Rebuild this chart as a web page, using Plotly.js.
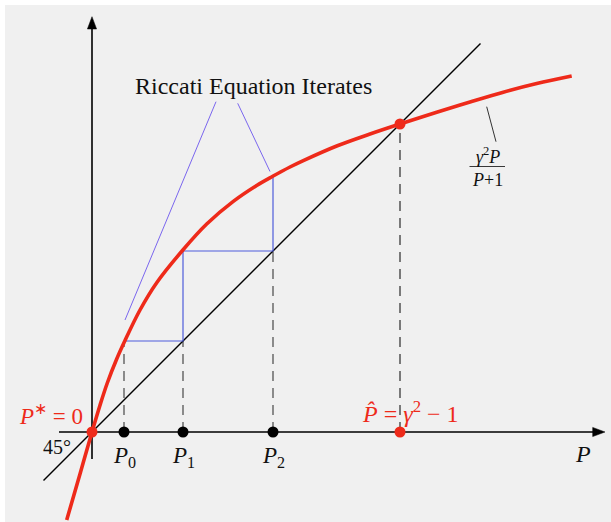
<!DOCTYPE html>
<html>
<head>
<meta charset="utf-8">
<script src="https://cdn.plot.ly/plotly-3.0.1.min.js"></script>
<style>html,body{margin:0;padding:0;background:#fff;}#chart{width:611px;height:522px;}</style>
</head>
<body>
<div id="chart"></div>
<script>
// ---- values (data units: P axis and value axis) ----
const curveP = [-0.253, -0.12, 0, 0.08, 0.153, 0.247, 0.33, 0.48, 0.647, 0.913, 1.147, 1.413, 1.647, 1.807, 1.98, 2.113, 2.447, 2.78, 3.08, 3.447, 3.78, 4.113, 4.447, 4.797];
const curveF = [-0.88, -0.42, 0, 0.268, 0.49, 0.73, 0.915, 1.22, 1.493, 1.825, 2.08, 2.306, 2.465, 2.557, 2.65, 2.714, 2.86, 2.98, 3.08, 3.198, 3.30, 3.398, 3.484, 3.56];
const iterP = [0.32, 0.91, 1.81];        // P0, P1, P2
const iterF = [0.91, 1.81, 2.55];        // f(P0), f(P1), f(P2)
const iterLabels = ['<i>P</i><sub>0</sub>', '<i>P</i><sub>1</sub>', '<i>P</i><sub>2</sub>'];
const fixedPoints = [0, 3.08];           // P* = 0, P̂ = γ² − 1
const diagP = [-0.485, 3.885];           // 45° line ends
const xAxisSpan = [-0.33, 5.13];
const yAxisSpan = [-0.27, 4.153];
const titleText = 'Riccati Equation Iterates';
const fixedLabels = ['<i>P</i><sup>∗</sup> = 0', '<i>P̂</i> = <i>γ</i><sup>2</sup> − 1'];
const fracText = '<i>γ</i><sup>2</sup><i>P</i><br><i>P</i>+1';

// ---- styles ----
const RED = '#ee2a1a', BLUE = '#4f5ddb', VIOLET = '#7a66ee', DASH = '#555555';
const SERIF = '"Liberation Serif", "Times New Roman", serif';
const Phat = fixedPoints[1];

const traces = [];
function seg(x, y, color, width, dash) {
  traces.push({x: x, y: y, type: 'scatter', mode: 'lines', hoverinfo: 'skip',
    line: {color: color, width: width, dash: dash || 'solid'}});
}
// axes
seg([xAxisSpan[0], xAxisSpan[1] - 0.06], [0, 0], '#000', 1.6);
seg([0, 0], [yAxisSpan[0], yAxisSpan[1] - 0.06], '#000', 1.6);
const ah = 0.123, aw = 0.046;
traces.push({x: [xAxisSpan[1], xAxisSpan[1] - ah, xAxisSpan[1] - ah, xAxisSpan[1]], y: [0, aw, -aw, 0],
  type: 'scatter', mode: 'lines', fill: 'toself', fillcolor: '#000', line: {color: '#000', width: 0.5}, hoverinfo: 'skip'});
traces.push({y: [yAxisSpan[1], yAxisSpan[1] - ah, yAxisSpan[1] - ah, yAxisSpan[1]], x: [0, aw, -aw, 0],
  type: 'scatter', mode: 'lines', fill: 'toself', fillcolor: '#000', line: {color: '#000', width: 0.5}, hoverinfo: 'skip'});

// dashed drop lines
const dropTops = [iterF[0], iterP[1], iterP[2]];
iterP.forEach((p, i) => seg([p, p], [0, dropTops[i]], DASH, 1.3, '10px,7px'));
seg([Phat, Phat], [0, Phat], '#3a3a3a', 1.3, '10px,7px');

// 45° line
seg(diagP, diagP, '#000', 1.4);

// staircase of iterates
seg([iterP[0], iterP[1], iterP[1], iterP[2], iterP[2]], [iterF[0], iterF[0], iterF[1], iterF[1], iterF[2]], BLUE, 1.2);

// label leader lines
seg([1.24, iterP[0] + 0.01], [3.303, 1.12], VIOLET, 1);
seg([1.457, iterP[2] - 0.03], [3.287, iterF[2] + 0.055], VIOLET, 1);
seg([3.947, 4.04], [3.253, 2.903], '#333', 1);
// fraction bar
seg([3.775, 4.13], [2.655, 2.655], '#222', 0.9);

// Riccati map curve
traces.push({x: curveP, y: curveF, type: 'scatter', mode: 'lines', hoverinfo: 'skip',
  line: {color: RED, width: 3.6, shape: 'spline', smoothing: 1}});

// dots
traces.push({x: iterP, y: iterP.map(() => 0), type: 'scatter', mode: 'markers', hoverinfo: 'skip',
  marker: {color: '#000', size: 11}});
traces.push({x: [fixedPoints[0], Phat, Phat], y: [0, 0, Phat], type: 'scatter', mode: 'markers', hoverinfo: 'skip',
  marker: {color: RED, size: 11}});

const ann = [];
function label(text, x, y, size, color, xa) {
  ann.push({text: text, x: x, y: y, xref: 'x', yref: 'y', showarrow: false,
    xanchor: xa || 'center', yanchor: 'middle', font: {family: SERIF, size: size, color: color}});
}
label(titleText, 1.615, 3.46, 24, '#111');
iterP.forEach((p, i) => label(iterLabels[i], p, -0.25, 23, '#111'));
label('<i>P</i>', 4.913, -0.22, 24, '#111');
label('45°', -0.353, -0.15, 20, '#111');
label(fixedLabels[0], -0.07, 0.18, 23, RED, 'right');
label(fixedLabels[1], 3.185, 0.20, 24, RED);
label(fracText, 3.955, 2.655, 18, '#111');

const layout = {
  width: 611, height: 522, autosize: false,
  margin: {l: 0, r: 0, t: 0, b: 0, pad: 0},
  paper_bgcolor: '#ffffff', plot_bgcolor: 'rgba(0,0,0,0)',
  showlegend: false,
  xaxis: {range: [-0.92, 5.19], visible: false, fixedrange: true},
  yaxis: {range: [-0.90, 4.32], visible: false, fixedrange: true},
  shapes: [{type: 'rect', xref: 'paper', yref: 'paper', x0: 5 / 611, x1: 1, y0: 0, y1: 1 - 5 / 522,
    fillcolor: '#f0f0f0', line: {width: 0}, layer: 'below'}],
  annotations: ann
};
Plotly.newPlot('chart', traces, layout, {displayModeBar: false, staticPlot: true});
</script>
</body>
</html>
